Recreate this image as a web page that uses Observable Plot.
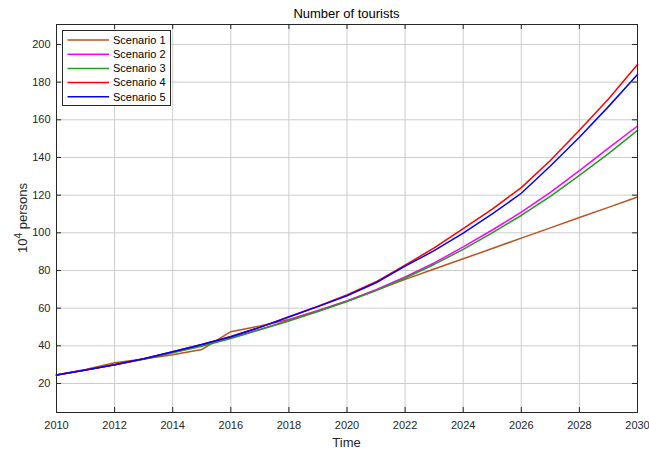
<!DOCTYPE html>
<html><head><meta charset="utf-8">
<script src="https://cdn.jsdelivr.net/npm/d3@7"></script>
<script src="https://cdn.jsdelivr.net/npm/@observablehq/plot@0.6"></script>
<style>body{margin:0;background:#fff} svg{display:block}</style>
</head><body><div id="chart"></div>
<script>
const years = [2010,2011,2012,2013,2014,2015,2016,2017,2018,2019,2020,2021,2022,2023,2024,2025,2026,2027,2028,2029,2030];
const names = ["Scenario 1","Scenario 2","Scenario 3","Scenario 4","Scenario 5"];
const scenario1 = [24.5,27.5,31,33,35.3,38,47.5,50.5,54,58.8,63.8,69.5,75.3,80.8,86.2,91.7,97.2,102.6,108.1,113.5,119];
const scenario2 = [24.5,27.2,30,33,36.6,40.3,44.3,48.7,53.5,58.5,63.8,69.8,76.6,84,92.5,101.5,111,121.5,133,145,156.7];
const scenario3 = [24.5,27.1,29.9,32.8,36.3,39.8,43.9,48.5,53.2,58.2,63.5,69.3,76,83.2,91.2,100,109.2,119.4,130.5,142,154.4];
const scenario4 = [24.5,27.2,30,33.1,36.8,40.7,45,49.8,55.5,61,67,74,82.8,92,102.2,112.6,124,138.4,154.4,171,189.4];
const scenario5 = [24.5,27.2,30,33.1,36.8,40.7,44.8,49.8,55.3,60.8,66.6,73.5,82.3,90.5,99.8,110,121,135.5,150.7,167,184];
const xTicks = [2010,2012,2014,2016,2018,2020,2022,2024,2026,2028,2030];
const yTicks = [20,40,60,80,100,120,140,160,180,200];
const colors = ["#b8541e","#ff00ff","#259925","#ff0000","#0000ff"];

const series = [scenario1, scenario2, scenario3, scenario4, scenario5];
const data = [];
series.forEach((vals, i) => vals.forEach((v, j) => data.push({year: years[j], value: v, scenario: names[i]})));

const W = 649, H = 452, mL = 56, mR = 12, mT = 24, mB = 40;
const pw = W - mL - mR, ph = H - mT - mB;
const font = "'Liberation Sans', Arial, Helvetica, sans-serif";
const ink = "#262626";

const chart = Plot.plot({
  width: W, height: H,
  marginLeft: mL, marginRight: mR, marginTop: mT, marginBottom: mB,
  style: {fontFamily: font, fontSize: "11px", color: ink, background: "#fff"},
  x: {domain: [2010, 2030], ticks: xTicks, tickFormat: "d", label: null, tickSize: 0, tickPadding: 9},
  y: {domain: [4.6, 210.6], ticks: yTicks, label: null, tickSize: 0, tickPadding: 6},
  color: {domain: names, range: colors},
  marks: [
    Plot.gridX(xTicks, {stroke: "#cccccc", strokeOpacity: 1}),
    Plot.gridY(yTicks, {stroke: "#cccccc", strokeOpacity: 1}),
    Plot.lineY(data, {x: "year", y: "value", z: "scenario", stroke: "scenario", strokeWidth: 1.5}),
    Plot.tickX(xTicks, {x: d => d, insetTop: ph - 5, stroke: ink}),
    Plot.tickX(xTicks, {x: d => d, insetBottom: ph - 5, stroke: ink}),
    Plot.tickY(yTicks, {y: d => d, insetRight: pw - 5, stroke: ink}),
    Plot.tickY(yTicks, {y: d => d, insetLeft: pw - 5, stroke: ink}),
    Plot.frame({stroke: ink})
  ]
});

const svg = d3.select(chart);
svg.append("text").attr("x", mL + pw / 2).attr("y", 18).attr("text-anchor", "middle")
  .attr("font-family", font).attr("font-size", 13).attr("fill", "#000").text("Number of tourists");
svg.append("text").attr("x", mL + pw / 2).attr("y", 447).attr("text-anchor", "middle")
  .attr("font-family", font).attr("font-size", 13).attr("fill", ink).text("Time");
const yl = svg.append("text").attr("transform", `translate(27,${mT + ph / 2}) rotate(-90)`)
  .attr("text-anchor", "middle").attr("font-family", font).attr("font-size", 13).attr("fill", ink);
yl.append("tspan").text("10");
yl.append("tspan").attr("font-size", 10).attr("dy", -5).text("4");
yl.append("tspan").attr("dy", 5).text(" persons");

const lg = svg.append("g");
lg.append("rect").attr("x", 62.5).attr("y", 30.5).attr("width", 108).attr("height", 75)
  .attr("fill", "#fff").attr("stroke", ink).attr("stroke-width", 1);
names.forEach((n, i) => {
  const y = 40 + i * 14.2;
  lg.append("line").attr("x1", 67.5).attr("x2", 109).attr("y1", y).attr("y2", y)
    .attr("stroke", colors[i]).attr("stroke-width", 1.5);
  lg.append("text").attr("x", 113).attr("y", y).attr("dy", "0.35em").attr("text-anchor", "start")
    .attr("font-family", font).attr("font-size", 11).attr("fill", "#000").text(n);
});

document.getElementById("chart").appendChild(chart);
</script>
</body></html>
